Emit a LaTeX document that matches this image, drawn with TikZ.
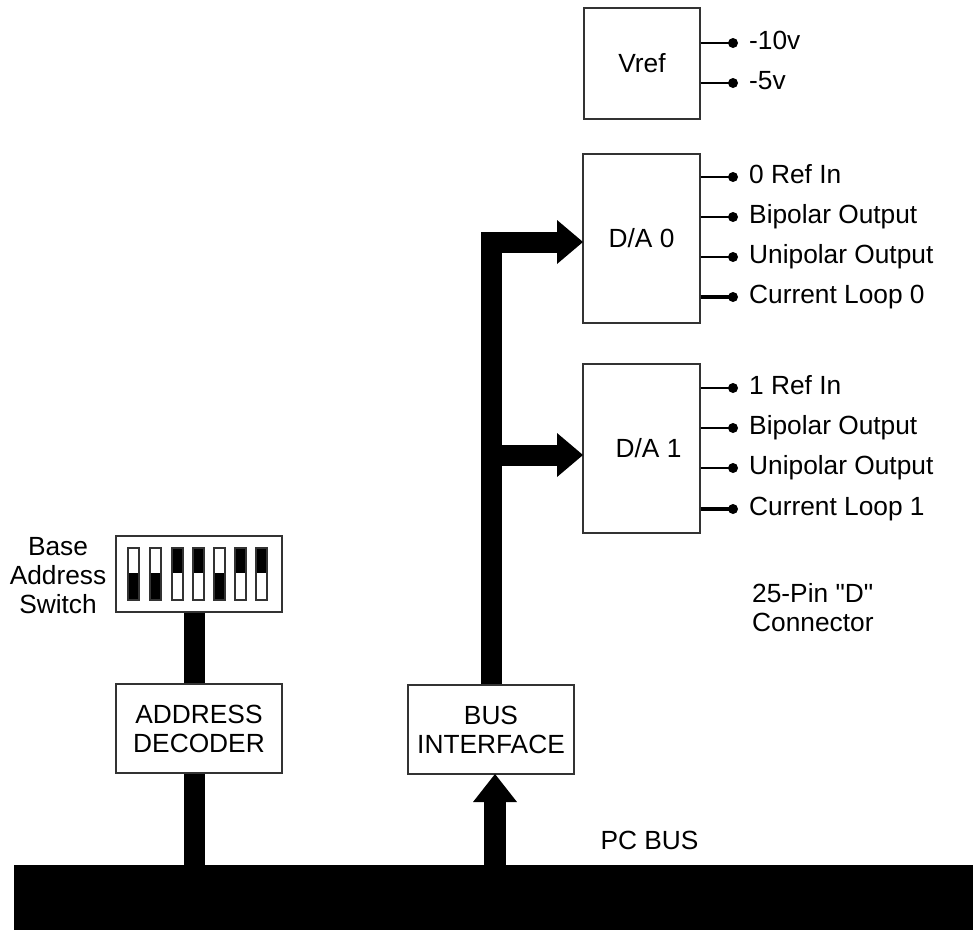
\documentclass[tikz,border=0pt]{standalone}
\usepackage{fontspec}
\newfontfamily\arialfont{Liberation Sans}
\begin{document}
\begin{tikzpicture}[x=1pt,y=-1pt,
  font=\arialfont\fontsize{26.3}{29}\selectfont,
  blk/.style={draw=black!80, line width=1.3pt, inner sep=0pt, align=center},
  lead/.style={line width=2.6pt},
  thicklead/.style={line width=3.6pt},
  lbl/.style={anchor=base west, inner sep=0pt},
  shaft/.style={line width=21pt},
  sw/.style={draw=black!80, line width=1.1pt}]
\useasboundingbox (0,0) rectangle (973,930);

% boxes
\node[blk, minimum width=116pt, minimum height=111pt] (vref) at (642,63.5) {Vref};
\node[blk, minimum width=117pt, minimum height=169pt] (da0) at (641.5,238.5) {D/A 0};
\node[blk, minimum width=117pt, minimum height=169pt] (da1) at (641.5,448.5) {\hspace*{14pt}D/A 1};
\node[blk, minimum width=166pt, minimum height=89pt] (addr) at (199,728.5) {ADDRESS\\DECODER};
\node[blk, minimum width=166pt, minimum height=89pt] (bi) at (491,729.5) {BUS\\INTERFACE};
\node[blk, minimum width=166pt, minimum height=76pt] (dip) at (199,574) {};
\node[fill=black, inner sep=0pt, minimum width=959pt, minimum height=65pt] (bus) at (493.5,897.5) {};

% texts
\node[align=center, inner sep=0pt] (bas) at (58,576) {Base\\Address\\Switch};
\node[align=left, anchor=west, inner sep=0pt] (conn) at (752,607.5) {25-Pin "D"\\Connector};
\node[inner sep=0pt] (pcbus) at (649.5,840.5) {PC BUS};

% Vref leads
\foreach \y/\t [count=\i] in {43/-10v, 83/-5v} {
  \coordinate (vp\i) at (733,\y);
  \draw[lead] (vref.east|-vp\i) -- (vp\i);
  \fill (vp\i) circle (5);
  \node[lbl] at ([xshift=16pt,yshift=-6pt]vp\i) {\t};
}
% D/A 0 leads
\foreach \y/\t/\s [count=\i] in {177/0 Ref In/lead, 217/Bipolar Output/lead, 257/Unipolar Output/lead, 297/Current Loop 0/thicklead} {
  \coordinate (ap\i) at (733,\y);
  \draw[\s] (da0.east|-ap\i) -- (ap\i);
  \fill (ap\i) circle (5);
  \node[lbl] at ([xshift=16pt,yshift=-6pt]ap\i) {\t};
}
% D/A 1 leads
\foreach \y/\t/\s [count=\i] in {388/1 Ref In/lead, 428/Bipolar Output/lead, 468/Unipolar Output/lead, 509/Current Loop 1/thicklead} {
  \coordinate (bp\i) at (733,\y);
  \draw[\s] (da1.east|-bp\i) -- (bp\i);
  \fill (bp\i) circle (5);
  \node[lbl] at ([xshift=16pt,yshift=-6pt]bp\i) {\t};
}

% DIP switches
\foreach \x/\tp in {128/0,150/0,172/1,193/1,214/0,235/1,256/1} {
  \ifnum\tp=1
    \fill (\x,548) rectangle ++(11,25);
  \else
    \fill (\x,573) rectangle ++(11,27);
  \fi
  \draw[sw] (\x,548) rectangle ++(11,52);
}

% thick connectors
\coordinate (in0) at (583,242);
\coordinate (h0) at (558,242);
\coordinate (in1) at (583,455);
\coordinate (h1) at (558,455);
\draw[shaft] (bi.north) |- (h0);
\fill (in0) -- ++(-26,-22) -- ++(0,44) -- cycle;
\draw[shaft] (bi.north|-in1) -- (h1);
\fill (in1) -- ++(-26,-22) -- ++(0,44) -- cycle;

\coordinate (bt) at (495,774);
\coordinate (bb) at (495,801);
\draw[line width=22pt] (bt|-bus.north) -- (bb);
\fill (bt) -- ++(-22,28) -- ++(44,0) -- cycle;

\draw[shaft] ([xshift=-4.5pt]dip.south) -- ([xshift=-4.5pt]addr.north);
\draw[shaft] ([xshift=-4.5pt]addr.south) -- ([xshift=-4.5pt]addr.south|-bus.north);
\end{tikzpicture}
\end{document}
